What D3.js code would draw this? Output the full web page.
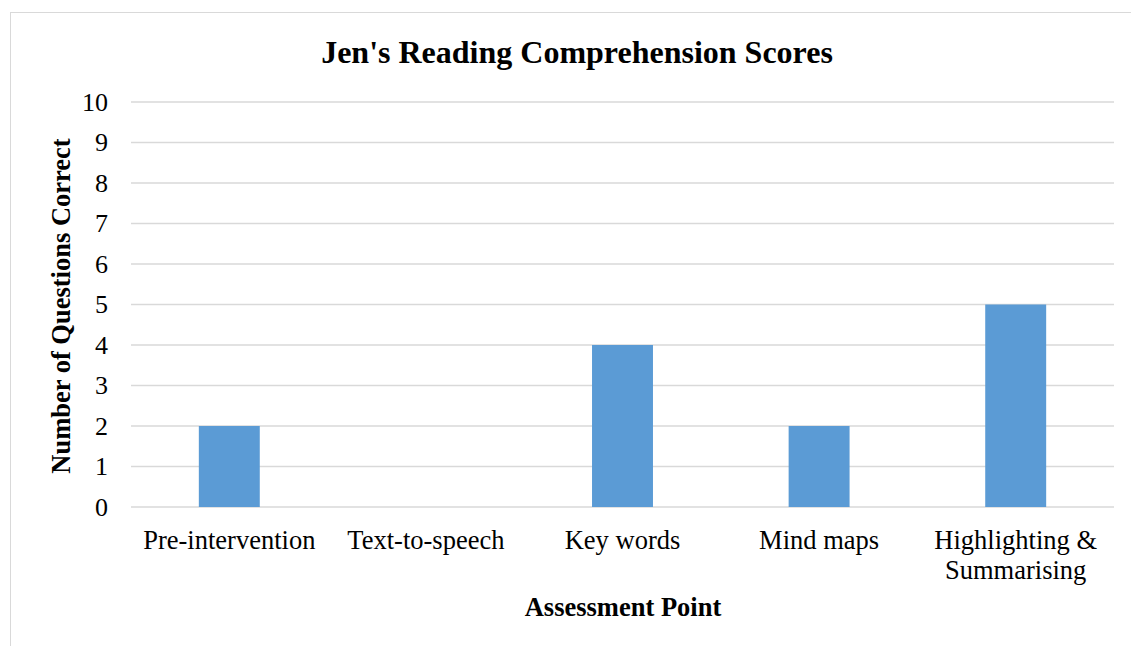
<!DOCTYPE html>
<html>
<head>
<meta charset="utf-8">
<script src="https://cdn.jsdelivr.net/npm/d3@7"></script>
<style>
  body { margin: 0; background: #fff; }
  text { font-family: "Liberation Serif", "Times New Roman", serif; fill: #000; }
</style>
</head>
<body>
<div id="chart"></div>
<script>
const categories = ["Pre-intervention", "Text-to-speech", "Key words", "Mind maps", "Highlighting & Summarising"];
const scores = [2, 0, 4, 2, 5];
const yTicks = [0, 1, 2, 3, 4, 5, 6, 7, 8, 9, 10];

const width = 1131;
const height = 646;
const margin = { top: 102, right: 17, bottom: 139, left: 131 };

const svg = d3.select("#chart")
  .append("svg")
  .attr("width", width)
  .attr("height", height);

// outer chart border (cropped at right/bottom like the picture)
svg.append("rect")
  .attr("x", 10.5).attr("y", 12.5)
  .attr("width", 1130).attr("height", 650)
  .attr("fill", "none")
  .attr("stroke", "#d9d9d9");

const x = d3.scaleBand()
  .domain(categories)
  .range([margin.left, width - margin.right])
  .paddingInner(0)
  .paddingOuter(0);

const y = d3.scaleLinear()
  .domain([0, 10])
  .range([height - margin.bottom, margin.top]);

// gridlines
svg.append("g")
  .selectAll("line")
  .data(yTicks)
  .enter().append("line")
  .attr("x1", margin.left)
  .attr("x2", width - margin.right)
  .attr("y1", d => y(d))
  .attr("y2", d => y(d))
  .attr("stroke", "#d9d9d9")
  .attr("stroke-width", 1.3);

// y axis labels
const yAxis = svg.append("g")
  .attr("transform", `translate(${margin.left},0)`)
  .call(d3.axisLeft(y).tickValues(yTicks).tickSize(0).tickPadding(23));
yAxis.select(".domain").remove();
yAxis.selectAll("text")
  .style("font-family", "'Liberation Serif', serif")
  .style("font-size", "26px")
  .attr("fill", "#000");

// bars
const barW = x.bandwidth() * 0.31;
svg.selectAll(".bar")
  .data(categories)
  .enter().append("rect")
  .attr("class", "bar")
  .attr("x", (d) => x(d) + (x.bandwidth() - barW) / 2)
  .attr("y", (d, i) => y(scores[i]))
  .attr("width", barW)
  .attr("height", (d, i) => y(0) - y(scores[i]))
  .attr("fill", "#5b9bd5");

// category labels (wrap long ones)
const wrapped = {
  "Highlighting & Summarising": ["Highlighting &", "Summarising"]
};
const catG = svg.append("g");
categories.forEach(c => {
  const lines = wrapped[c] || [c];
  const t = catG.append("text")
    .attr("text-anchor", "middle")
    .attr("font-size", "26.5px")
    .attr("x", x(c) + x.bandwidth() / 2)
    .attr("y", 549);
  lines.forEach((l, i) => {
    t.append("tspan")
      .attr("x", x(c) + x.bandwidth() / 2)
      .attr("dy", i === 0 ? 0 : 30)
      .text(l);
  });
});

// title
svg.append("text")
  .attr("x", 577)
  .attr("y", 63)
  .attr("text-anchor", "middle")
  .attr("font-size", "32px")
  .attr("font-weight", "bold")
  .text("Jen's Reading Comprehension Scores");

// x axis title
svg.append("text")
  .attr("x", 623)
  .attr("y", 616)
  .attr("text-anchor", "middle")
  .attr("font-size", "26.5px")
  .attr("font-weight", "bold")
  .text("Assessment Point");

// y axis title
svg.append("text")
  .attr("transform", "translate(70,306) rotate(-90)")
  .attr("text-anchor", "middle")
  .attr("font-size", "26.5px")
  .attr("font-weight", "bold")
  .text("Number of Questions Correct");
</script>
</body>
</html>
